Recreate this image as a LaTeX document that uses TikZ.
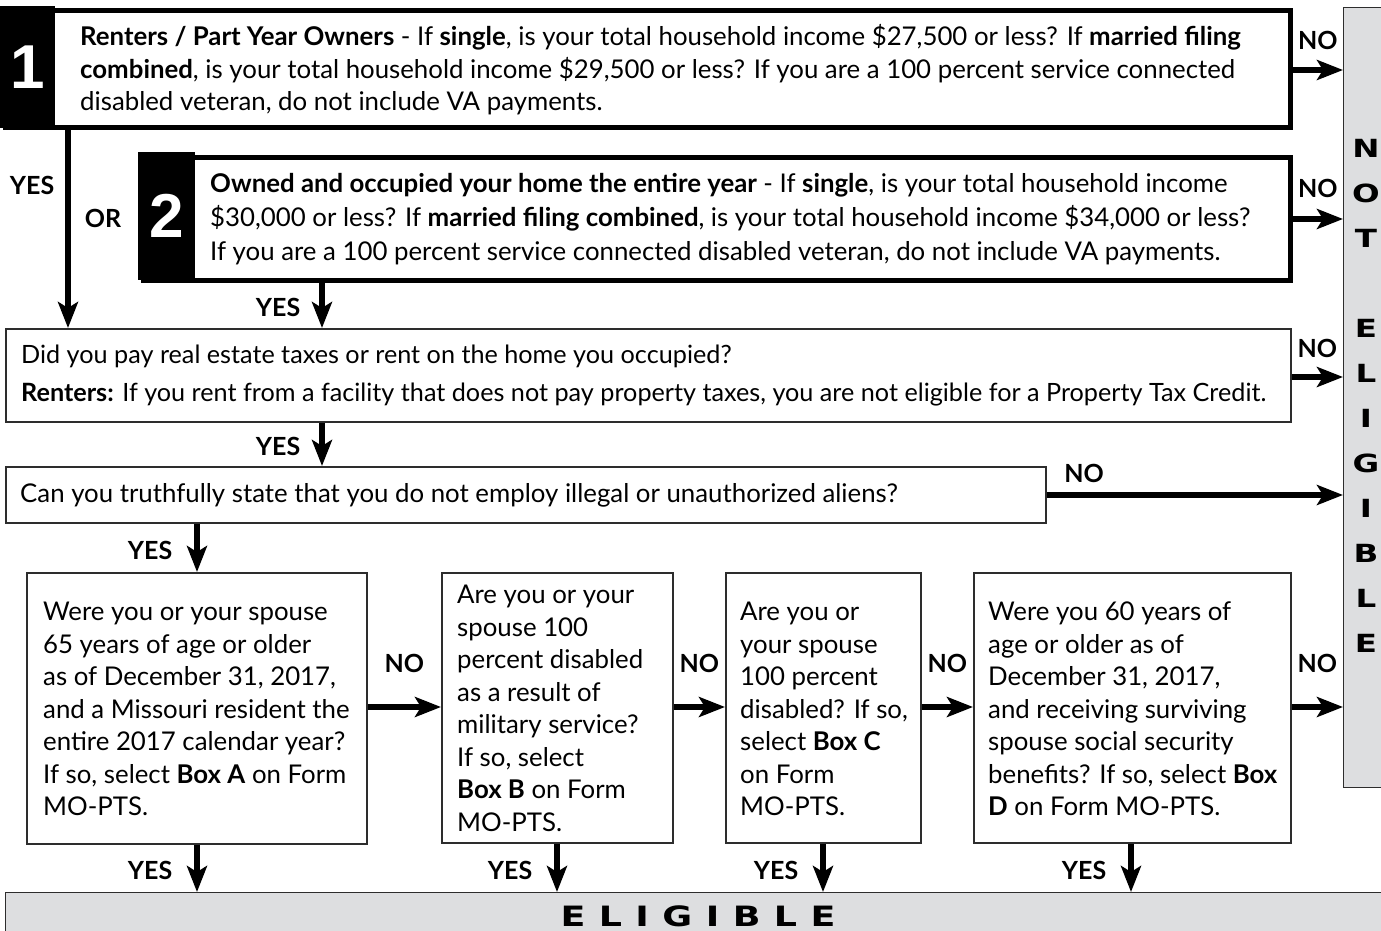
\documentclass[tikz,border=0pt]{standalone}
\usepackage{fontspec}
\setmainfont{Lato}
\newfontfamily\digitfont{Liberation Sans}
\newfontfamily\widefont[FakeStretch=1.3]{DejaVu Sans}
\usetikzlibrary{positioning, arrows.meta}
\definecolor{panelgray}{RGB}{221,222,224}
\definecolor{framegray}{RGB}{45,45,45}

\begin{document}
\begin{tikzpicture}[x=1pt, y=1pt,
    qbox/.style={draw=framegray, line width=1.6pt, fill=white, anchor=north west, inner sep=0pt},
    qframe/.style={draw=black, line width=5pt, anchor=north west, inner sep=0pt},
    numtab/.style={fill=black, text=white, anchor=north west, inner sep=0pt,
      font=\digitfont\bfseries\fontsize{62}{62}\selectfont},
    txt/.style={anchor=west, align=left, inner sep=0pt, font=\fontsize{25.8}{32.5}\selectfont},
    lbl/.style={font=\bfseries\fontsize{25}{25}\selectfont, inner sep=0pt},
    endbox/.style={fill=panelgray, draw=framegray, line width=1.4pt, anchor=north west, inner sep=0pt},
    heavy/.style={font=\widefont\bfseries\fontsize{25}{45}\selectfont, align=center, inner sep=0pt},
    wide/.style={font=\widefont\bfseries\fontsize{28}{28}\selectfont\addfontfeature{LetterSpace=48}, inner sep=0pt},
    arr/.style={-{Stealth[length=26pt, width=20pt, inset=6pt]}, line width=5.5pt},
  ]
  \useasboundingbox (0,0) rectangle (1381,-931);

  % outcome panels
  \node[endbox, minimum width=50pt, minimum height=780pt] (ne) at (1343,-7) {};
  \node[heavy] (net) at (1366,-395.5) {N\\O\\T\\[45pt]E\\L\\I\\G\\I\\B\\L\\E};
  \node[endbox, minimum width=1390pt, minimum height=50pt] (el) at (5,-892) {};
  \node[wide] (elt) at (698,-916) {ELIGIBLE};

  % question 1
  \node[numtab, minimum width=55pt, minimum height=122pt] (t1) at (0,-6) {1};
  \node[qframe, minimum width=1285pt, minimum height=117pt] (q1) at (2.5,-8.5) {};
  \node[txt] (q1t) at (80,-70) {\textbf{Renters / Part Year Owners} - If \textbf{single}, is your total household income \$27,500 or less? If \textbf{married filing}\\
    \textbf{combined}, is your total household income \$29,500 or less? If you are a 100 percent service connected\\
    disabled veteran, do not include VA payments.};

  % question 2
  \node[numtab, minimum width=57pt, minimum height=128pt] (t2) at (138,-152) {2};
  \node[qframe, minimum width=1147pt, minimum height=123pt] (q2) at (140.5,-154.5) {};
  \node[txt, font=\fontsize{25.8}{34}\selectfont] (q2t) at (210,-219) {\textbf{Owned and occupied your home the entire year} - If \textbf{single}, is your total household income\\
    \$30,000 or less? If \textbf{married filing combined}, is your total household income \$34,000 or less?\\
    If you are a 100 percent service connected disabled veteran, do not include VA payments.};
  \node[lbl] (or) at (103,-218) {OR};

  % taxes / rent
  \node[qbox, minimum width=1285pt, minimum height=93pt] (q3) at (5,-328) {};
  \node[txt, font=\fontsize{25.2}{32.5}\selectfont] (q3t) at (21,-376) {Did you pay real estate taxes or rent on the home you occupied?\\[5.5pt]
    \textbf{Renters:} If you rent from a facility that does not pay property taxes, you are not eligible for a Property Tax Credit.};

  % aliens
  \node[qbox, minimum width=1040pt, minimum height=56pt] (q4) at (5,-466) {};
  \node[txt] (q4t) at (20,-495) {Can you truthfully state that you do not employ illegal or unauthorized aliens?};

  % boxes A-D
  \node[qbox, minimum width=340pt, minimum height=271pt] (qa) at (26,-572) {};
  \node[txt] (qat) at (43,-709) {Were you or your spouse\\ 65 years of age or older\\ as of December 31, 2017,\\
    and a Missouri resident the\\ entire 2017 calendar year?\\ If so, select \textbf{Box A} on Form\\ MO-PTS.};
  \node[qbox, minimum width=231pt, minimum height=270pt] (qb) at (441,-572) {};
  \node[txt] (qbt) at (457,-708.5) {Are you or your\\ spouse 100\\ percent disabled\\ as a result of\\
    military service?\\ If so, select\\ \textbf{Box B} on Form\\ MO-PTS.};
  \node[qbox, minimum width=195pt, minimum height=270pt] (qc) at (725,-572) {};
  \node[txt] (qct) at (740,-709) {Are you or\\ your spouse\\ 100 percent\\ disabled? If so,\\
    select \textbf{Box C}\\ on Form\\ MO-PTS.};
  \node[qbox, minimum width=317pt, minimum height=270pt] (qd) at (973,-572) {};
  \node[txt] (qdt) at (988,-709) {Were you 60 years of\\ age or older as of\\ December 31, 2017,\\
    and receiving surviving\\ spouse social security\\ benefits? If so, select \textbf{Box}\\ \textbf{D} on Form MO-PTS.};

  % yes paths
  \draw[arr] (q1.south -| 68,0) -- (q3.north -| 68,0) node[lbl, left=11pt, pos=0.28] (y1) {YES};
  \draw[arr] (q2.south -| 322,0) -- (q3.north -| 322,0) node[lbl, left=19pt, pos=0.55] (y2) {YES};
  \draw[arr] (q3.south -| 322,0) -- (q4.north -| 322,0) node[lbl, left=19pt, pos=0.55] (y3) {YES};
  \draw[arr] (q4.south -| 197,0) -- (qa.north -| 197,0) node[lbl, left=22pt, pos=0.55] (y4) {YES};
  \draw[arr] (qa.south -| 197,0) -- (el.north -| 197,0) node[lbl, left=22pt, pos=0.55] (ya) {YES};
  \draw[arr] (qb.south -| 557,0) -- (el.north -| 557,0) node[lbl, left=22pt, pos=0.55] (yb) {YES};
  \draw[arr] (qc.south -| 823,0) -- (el.north -| 823,0) node[lbl, left=22pt, pos=0.55] (yc) {YES};
  \draw[arr] (qd.south -| 1131,0) -- (el.north -| 1131,0) node[lbl, left=22pt, pos=0.55] (yd) {YES};

  % no paths
  \draw[arr] (q1.east |- 0,-70) -- (ne.west |- 0,-70) node[lbl, above=18pt, midway] (n1) {NO};
  \draw[arr] (q2.east |- 0,-219) -- (ne.west |- 0,-219) node[lbl, above=19pt, midway] (n2) {NO};
  \draw[arr] (q3.east |- 0,-377) -- (ne.west |- 0,-377) node[lbl, above=17pt, midway] (n3) {NO};
  \draw[arr] (q4.east |- 0,-495) -- (ne.west |- 0,-495) node[lbl, anchor=south west, xshift=15pt, yshift=10pt, pos=0] (n4) {NO};
  \draw[arr] (qa.east |- 0,-707) -- (qb.west |- 0,-707) node[lbl, above=32pt, midway] (na) {NO};
  \draw[arr] (qb.east |- 0,-707) -- (qc.west |- 0,-707) node[lbl, above=32pt, midway] (nb) {NO};
  \draw[arr] (qc.east |- 0,-707) -- (qd.west |- 0,-707) node[lbl, above=32pt, midway] (nc) {NO};
  \draw[arr] (qd.east |- 0,-707) -- (ne.west |- 0,-707) node[lbl, above=32pt, midway] (nd) {NO};
\end{tikzpicture}
\end{document}
